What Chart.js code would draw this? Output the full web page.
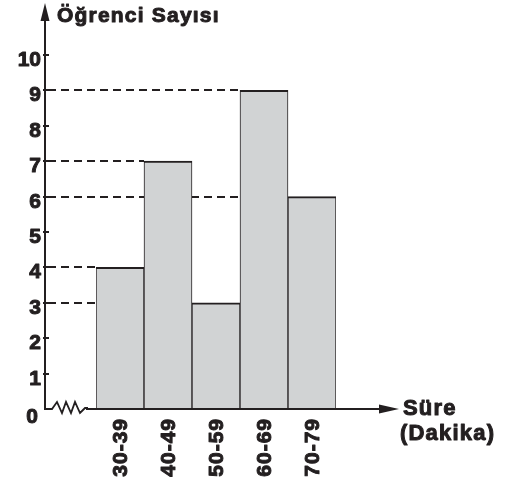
<!DOCTYPE html>
<html>
<head>
<meta charset="utf-8">
<script src="https://cdn.jsdelivr.net/npm/chart.js@4"></script>
<style>
  html, body { margin: 0; padding: 0; background: #fff; }
  #wrap { width: 505px; height: 481px; position: relative; }
</style>
</head>
<body>
<div id="wrap"><canvas id="chart"></canvas></div>
<script>
/* ---- Data ---- */
const categories = ["30-39", "40-49", "50-59", "60-69", "70-79"];
const counts     = [4, 7, 3, 9, 6];
const yTicks     = [0, 1, 2, 3, 4, 5, 6, 7, 8, 9, 10];
const yTitle     = "Öğrenci Sayısı";
const xTitle     = ["Süre", "(Dakika)"];

/* ---- Style ---- */
const INK   = "#231f20";
const FILL  = "#d1d3d4";
const FONT  = "Arial, 'Liberation Sans', Roboto, sans-serif";
const AXIS_X = 45;

function arrowHead(ctx, tipX, tipY, dir) {
  ctx.beginPath();
  if (dir === "up") {
    ctx.moveTo(tipX, tipY);
    ctx.lineTo(tipX - 4.5, tipY + 18);
    ctx.lineTo(tipX + 4.5, tipY + 18);
  } else {
    ctx.moveTo(tipX, tipY);
    ctx.lineTo(tipX - 20, tipY - 4.5);
    ctx.lineTo(tipX - 20, tipY + 4.5);
  }
  ctx.closePath();
  ctx.fill();
}

// heavy text: fill plus a thin stroke of the same colour
function boldText(ctx, str, x, y) {
  ctx.fillText(str, x, y);
  ctx.strokeText(str, x, y);
}

/* dashed guides from the axis to each bar's left edge, under the bars */
const guides = {
  id: "guides",
  beforeDatasetsDraw(chart) {
    const ctx = chart.ctx;
    const y = chart.scales.y;
    const bars = chart.getDatasetMeta(0).data;
    ctx.save();
    ctx.strokeStyle = INK;
    ctx.lineWidth = 2;
    ctx.setLineDash([8, 5]);
    bars.forEach((b, i) => {
      const p = b.getProps(["x", "width"], true);
      const py = Math.round(y.getPixelForValue(counts[i]));
      ctx.beginPath();
      ctx.moveTo(AXIS_X + 3, py);
      ctx.lineTo(p.x - p.width / 2, py);
      ctx.stroke();
    });
    ctx.restore();
  }
};

/* axes, arrows, break mark and all labels */
const axes = {
  id: "axes",
  afterDraw(chart) {
    const ctx = chart.ctx;
    const y = chart.scales.y;
    const base = Math.round(y.getPixelForValue(0));
    ctx.save();
    ctx.strokeStyle = INK;
    ctx.fillStyle = INK;
    ctx.lineWidth = 2;
    ctx.lineJoin = "miter";

    // y axis
    ctx.beginPath();
    ctx.moveTo(AXIS_X, base);
    ctx.lineTo(AXIS_X, 20);
    ctx.stroke();
    arrowHead(ctx, AXIS_X, 3, "up");

    // x axis with break
    ctx.lineWidth = 1.8;
    ctx.beginPath();
    ctx.moveTo(AXIS_X - 1, base);
    ctx.lineTo(52, base);
    ctx.lineTo(57, base - 7);
    ctx.lineTo(62, base + 4);
    ctx.lineTo(66, base - 7);
    ctx.lineTo(71, base + 4);
    ctx.lineTo(75, base - 7);
    ctx.lineTo(80, base + 4);
    ctx.lineTo(85, base - 1);
    ctx.lineTo(88, base - 1);
    ctx.stroke();
    ctx.lineWidth = 2;
    ctx.beginPath();
    ctx.moveTo(86, base);
    ctx.lineTo(382, base);
    ctx.stroke();
    arrowHead(ctx, 399, base, "right");

    // y ticks and labels
    ctx.textAlign = "right";
    ctx.textBaseline = "alphabetic";
    yTicks.forEach(v => {
      const py = Math.round(y.getPixelForValue(v));
      ctx.lineWidth = 2;
      ctx.font = "bold 21px " + FONT;
      if (v > 0) {
        ctx.beginPath();
        ctx.moveTo(AXIS_X - 2, py);
        ctx.lineTo(AXIS_X + 4, py);
        ctx.stroke();
      }
      ctx.lineWidth = 1;
      ctx.lineJoin = "round";
      if (v > 0) boldText(ctx, String(v), 41, py + 11);
      else boldText(ctx, String(v), 38, py + 14);
      ctx.lineJoin = "miter";
    });

    // x category labels, rotated
    const bars = chart.getDatasetMeta(0).data;
    ctx.lineWidth = 1;
    ctx.lineJoin = "round";
    ctx.letterSpacing = "1px";
    ctx.textAlign = "right";
    ctx.textBaseline = "middle";
    bars.forEach((b, i) => {
      ctx.save();
      ctx.translate(b.x, base + 9);
      ctx.rotate(-Math.PI / 2);
      boldText(ctx, categories[i], 0, 1);
      ctx.restore();
    });

    // axis titles
    ctx.textAlign = "left";
    ctx.textBaseline = "alphabetic";
    ctx.font = "bold 21px " + FONT;
    ctx.letterSpacing = "1.2px";
    boldText(ctx, yTitle, 57, 22);
    ctx.font = "bold 22px " + FONT;
    ctx.letterSpacing = "1.2px";
    boldText(ctx, xTitle[0], 403, 415);
    boldText(ctx, xTitle[1], 400, 440);
    ctx.restore();
  }
};

new Chart(document.getElementById("chart"), {
  type: "bar",
  data: {
    labels: categories,
    datasets: [{
      data: counts,
      backgroundColor: FILL,
      borderColor: INK,
      borderWidth: { top: 2, left: 1, right: 1, bottom: 0 },
      borderSkipped: "start",
      barPercentage: 1,
      categoryPercentage: 1
    }]
  },
  options: {
    responsive: true,
    maintainAspectRatio: false,
    animation: false,
    layout: { padding: { left: 96, right: 169, top: 55, bottom: 72 } },
    plugins: { legend: { display: false }, tooltip: { enabled: false } },
    scales: {
      x: { display: false, offset: true },
      y: { display: false, min: 0, max: 10 }
    }
  },
  plugins: [guides, axes]
});
</script>
</body>
</html>
